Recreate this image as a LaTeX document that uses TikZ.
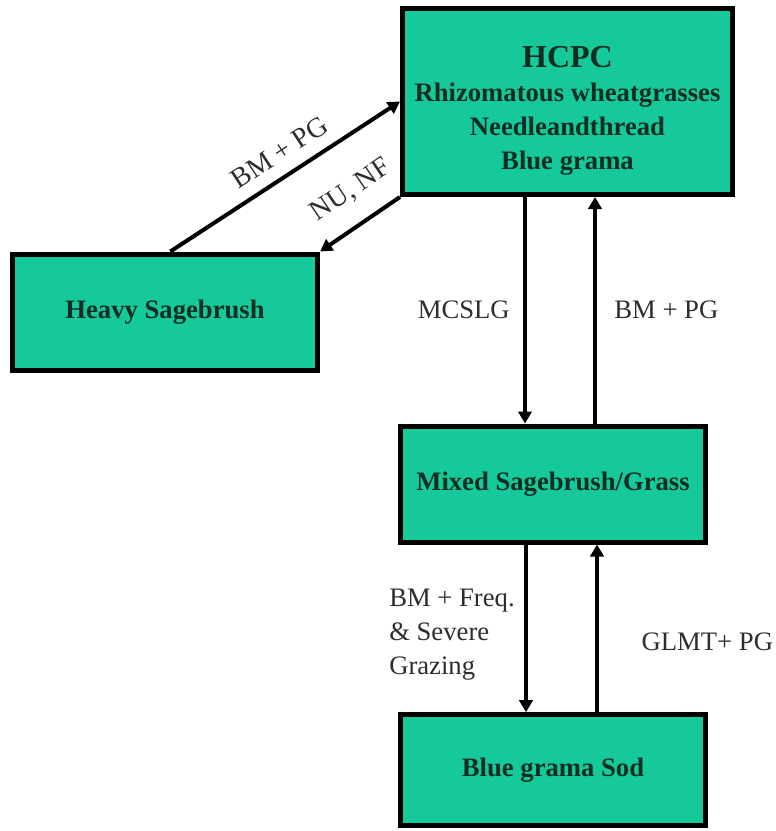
\documentclass[tikz,border=0pt]{standalone}
\usepackage{fontspec}
\setmainfont{Liberation Serif}
\usetikzlibrary{arrows.meta,calc}
\definecolor{stategreen}{RGB}{22,201,155}
\definecolor{statetext}{RGB}{18,46,34}
\definecolor{labeltext}{RGB}{45,45,45}

\begin{document}
\begin{tikzpicture}[x=0.75pt, y=-0.75pt, >={Triangle[length=9pt,width=10pt]},
    state/.style={draw=black, line width=3.75pt, fill=stategreen, text=statetext,
        font=\fontsize{20}{25.5}\selectfont\bfseries, align=center,
        minimum width=229pt, minimum height=87pt, inner sep=0pt},
    trans/.style={line width=3pt, ->},
    lbl/.style={text=labeltext, font=\fontsize{20}{25.5}\selectfont, inner sep=0pt, align=left},
    slbl/.style={lbl, font=\fontsize{21}{25.5}\selectfont, sloped}]
    \useasboundingbox (0,0) rectangle (775,831);

    % states
    \node[state, minimum width=247.5pt, minimum height=139.5pt] (hcpc) at (567.5,101.5)
        {\rule{0pt}{30pt}{\fontsize{24}{26}\selectfont HCPC}\\Rhizomatous wheatgrasses\\Needleandthread\\Blue grama};
    \node[state] (heavy) at (165,312) {Heavy Sagebrush};
    \node[state] (mixed) at (553,484) {Mixed Sagebrush/Grass};
    \node[state, minimum height=83pt] (sod) at (553,770) {Blue grama Sod};

    % HCPC <-> Heavy Sagebrush
    \draw[trans] ([xshift=4pt]heavy.north) -- (hcpc.west)
        node[slbl, pos=0.53, above=9pt] {BM + PG};
    \draw[trans, <-] (heavy.north east) -- (hcpc.south west)
        node[slbl, pos=0.62, above=14.5pt] {NU, NF};

    % HCPC <-> Mixed
    \coordinate (down1) at ($(mixed.north)+(-28,0)$);
    \coordinate (up1) at ($(mixed.north)+(42,0)$);
    \draw[trans] (hcpc.south -| down1) -- (down1)
        node[lbl, midway, left=10pt] {MCSLG};
    \draw[trans] (up1) -- (hcpc.south -| up1)
        node[lbl, midway, right=13pt] {BM + PG};

    % Mixed <-> Sod
    \coordinate (down2) at ($(sod.north)+(-27,0)$);
    \coordinate (up2) at ($(sod.north)+(44,0)$);
    \draw[trans] (mixed.south -| down2) -- (down2)
        node[lbl, midway, left=7pt, yshift=-5pt] {BM + Freq.\\\& Severe\\Grazing};
    \draw[trans] (up2) -- (mixed.south -| up2)
        node[lbl, midway, right=32pt, yshift=-10pt] {GLMT+ PG};
\end{tikzpicture}
\end{document}
